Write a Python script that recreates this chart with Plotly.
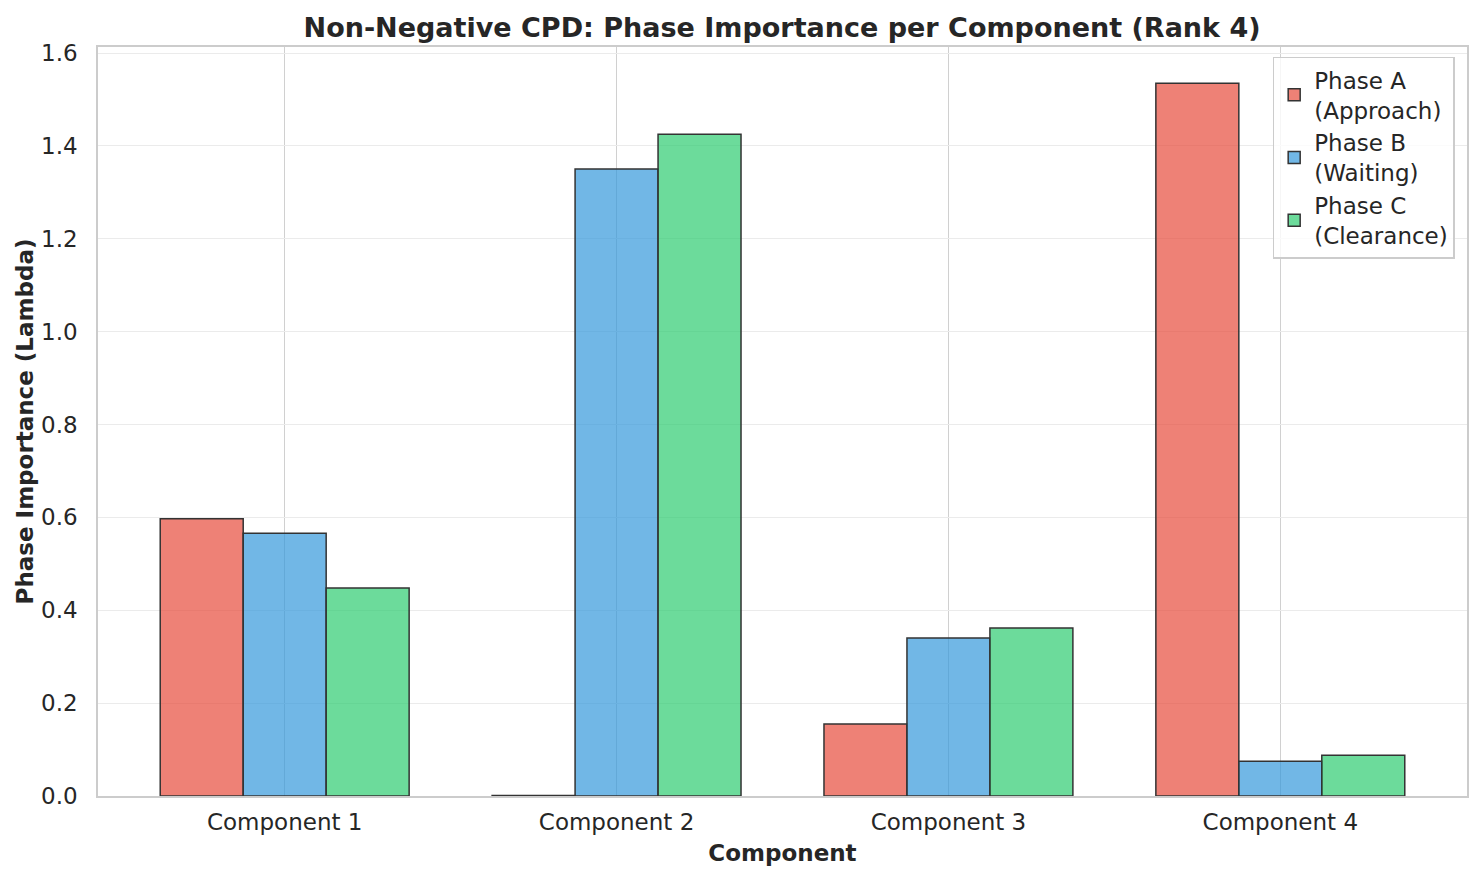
import plotly.graph_objects as go

components = ["Component 1", "Component 2", "Component 3", "Component 4"]
phase_names = ["Phase A<br>(Approach)", "Phase B<br>(Waiting)", "Phase C<br>(Clearance)"]
phase_a = [0.597, 0.001, 0.155, 1.535]
phase_b = [0.566, 1.350, 0.340, 0.075]
phase_c = [0.448, 1.425, 0.362, 0.088]
colors = ["rgba(231,76,60,0.7)", "rgba(52,152,219,0.7)", "rgba(46,204,113,0.7)"]

fig = go.Figure()
for name, vals, col in zip(phase_names, [phase_a, phase_b, phase_c], colors):
    fig.add_trace(go.Bar(
        x=components, y=vals, name=name,
        marker=dict(color=col, line=dict(color="#333333", width=1.5)),
    ))

font = "DejaVu Sans, Arial, sans-serif"
fig.update_layout(
    width=1473, height=872,
    margin=dict(l=90, r=14, t=39, b=84),
    paper_bgcolor="white", plot_bgcolor="white",
    barmode="group", bargap=0.25, bargroupgap=0,
    font=dict(family=font, color="#262626", size=23),
    title=dict(text="<b>Non-Negative CPD: Phase Importance per Component (Rank 4)</b>",
               x=0.5255, xanchor="center", y=0.978, yanchor="middle",
               font=dict(size=27, color="#262626")),
    legend=dict(x=0.991, xanchor="right", y=0.987, yanchor="top",
                bordercolor="#cccccc", borderwidth=1.5, bgcolor="rgba(255,255,255,0.8)",
                font=dict(size=23), tracegroupgap=2),
    showlegend=True,
)
fig.update_xaxes(
    range=[-0.5625, 3.5625], showgrid=True, gridcolor="#d0d0d0", gridwidth=1.2,
    showline=True, linecolor="#cccccc", linewidth=1.5, mirror=True,
    ticks="", ticklabelstandoff=5, tickfont=dict(size=23),
    title=dict(text="<b>Component</b>", font=dict(size=23), standoff=11),
)
fig.update_yaxes(
    range=[0, 1.613], dtick=0.2, tickformat=".1f", showgrid=True, gridcolor="#ebebeb", gridwidth=1.2,
    zeroline=False, showline=True, linecolor="#cccccc", linewidth=1.5, mirror=True,
    ticks="", ticklabelstandoff=14, tickfont=dict(size=23),
    title=dict(text="<b>Phase Importance (Lambda)</b>", font=dict(size=23), standoff=1),
)
fig.write_html("out.html")
